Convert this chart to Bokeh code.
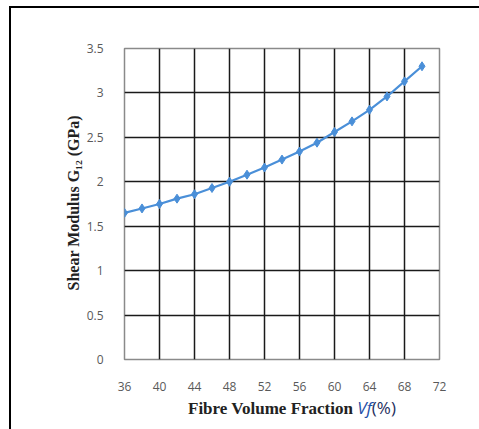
from bokeh.plotting import figure
from bokeh.models import ColumnDataSource, Range1d, FixedTicker, Div, Title
from bokeh.layouts import column
from bokeh.embed import file_html
from bokeh.resources import INLINE

vf = [36, 38, 40, 42, 44, 46, 48, 50, 52, 54, 56, 58, 60, 62, 64, 66, 68, 70]
g12 = [1.65, 1.70, 1.75, 1.81, 1.86, 1.93, 2.00, 2.08, 2.16, 2.25, 2.34, 2.44,
       2.56, 2.68, 2.81, 2.96, 3.13, 3.30]
x_ticks = [36, 40, 44, 48, 52, 56, 60, 64, 68, 72]
y_ticks = [0, 0.5, 1, 1.5, 2, 2.5, 3, 3.5]

src = ColumnDataSource(dict(x=vf, y=g12))

p = figure(width=468, height=387, output_backend="svg", toolbar_location=None,
           x_range=Range1d(36, 72), y_range=Range1d(0, 3.5),
           min_border_left=113, min_border_right=40, min_border_top=40,
           min_border_bottom=36)

p.outline_line_color = "#8a8a8a"
p.outline_line_width = 1.5

for ax in (p.xaxis[0], p.yaxis[0]):
    ax.axis_line_color = None
    ax.major_tick_line_color = None
    ax.minor_tick_line_color = None
    ax.major_label_text_color = "#595959"
    ax.major_label_text_font = "Open Sans"
    ax.major_label_text_font_size = "12px"

p.xaxis.ticker = FixedTicker(ticks=x_ticks)
p.yaxis.ticker = FixedTicker(ticks=y_ticks)
p.xaxis.major_label_standoff = 16
p.yaxis.major_label_standoff = 15
p.yaxis.major_label_overrides = {0: "0", 0.5: "0.5", 1: "1", 1.5: "1.5", 2: "2",
                                 2.5: "2.5", 3: "3", 3.5: "3.5"}

ytitle = Title(text="Shear Modulus G\u2081\u2082 (GPa)", align="left", offset=69,
               text_font="Liberation Serif", text_font_style="bold",
               text_font_size="16px", text_color="#222222", standoff=3)
p.add_layout(ytitle, "left")

p.xgrid.ticker = FixedTicker(ticks=x_ticks)
p.ygrid.ticker = FixedTicker(ticks=y_ticks)
for g in (p.xgrid[0], p.ygrid[0]):
    g.grid_line_color = "#1a1a1a"
    g.grid_line_width = 1.5

p.line("x", "y", source=src, line_color="#4A8FD8", line_width=2.2)
p.scatter("x", "y", source=src, marker="diamond", size=9,
          fill_color="#4A8FD8", line_color="#4A8FD8")

serif = "font-family: 'Times New Roman', 'Liberation Serif', serif; font-weight: bold; color: #222222;"
sans = "font-family: 'Open Sans', sans-serif;"
xtitle = Div(
    text=(f'<span style="{serif}">Fibre Volume Fraction </span>'
          f'<i style="{sans} color:#1F4FA8;">Vf</i>'
          f'<span style="{sans} color:#1F2F60;">(%)</span>'),
    width=468, height=34,
    styles={"padding-left": "172px", "line-height": "16px",
            "font-size": "17px", "white-space": "nowrap"})

layout = column(p, xtitle, spacing=0)
layout.styles = {"margin-left": "9px", "margin-top": "6px",
                 "border-left": "2px solid black", "border-top": "2px solid black"}

open("out.html", "w").write(file_html(layout, INLINE))
